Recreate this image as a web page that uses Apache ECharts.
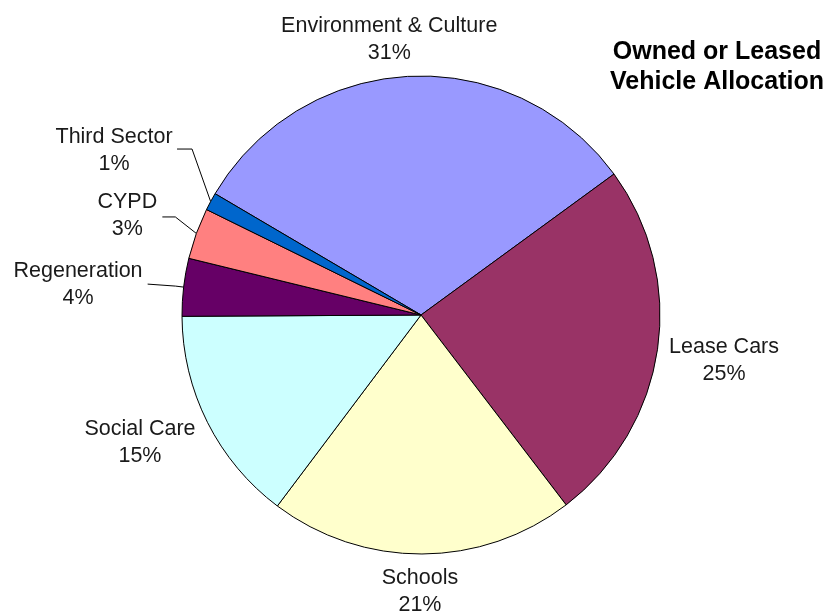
<!DOCTYPE html>
<html>
<head>
<meta charset="utf-8">
<script src="https://cdn.jsdelivr.net/npm/echarts@6/dist/echarts.min.js"></script>
<style>
html,body{margin:0;padding:0;background:#fff;}
#chart{width:826px;height:612px;}
</style>
</head>
<body>
<div id="chart"></div>
<script>
// ---- data ----
const categories = ['Environment & Culture', 'Lease Cars', 'Schools', 'Social Care', 'Regeneration', 'CYPD', 'Third Sector'];
const values = [31.49, 24.65, 20.65, 14.65, 3.9, 3.46, 1.2];
const titleLines = ['Owned or Leased', 'Vehicle Allocation'];

// ---- style / layout ----
const colors = ['#9999FF', '#993366', '#FFFFCC', '#CCFFFF', '#660066', '#FF8080', '#0066CC'];
const CX = 421, CY = 315, R = 239, START = 149.5;
const FONT = '"Liberation Sans", Arial, sans-serif';
// label placement relative to the slice's mid-point on the rim
const labelPlacement = [
  { dx: -20, dy: -36.5 },
  { dx: 66.5, dy: 11 },
  { dx: -2, dy: 38 },
  { dx: -67.5, dy: 20.5 },
  { dx: -105.6, dy: -3, elbow: [-8, -1], end: [-36, -3] },
  { dx: -69, dy: -18, elbow: [-21, -16.5], end: [-34, -16.5] },
  { dx: -96.6, dy: -51, elbow: [-18.6, -52.5], end: [-33.6, -52.5] }
];

const total = values.reduce((a, b) => a + b, 0);
const midAngles = [];
let acc = START;
values.forEach(v => {
  const span = v / total * 360;
  midAngles.push(acc - span / 2);
  acc -= span;
});

const chart = echarts.init(document.getElementById('chart'), null, { renderer: 'canvas' });
chart.setOption({
  animation: false,
  backgroundColor: '#fff',
  graphic: [{
    type: 'text',
    x: 717, y: 37,
    style: {
      text: titleLines.join('\n'),
      align: 'center', verticalAlign: 'top',
      fontFamily: FONT, fontSize: 25, fontWeight: 'bold',
      lineHeight: 30, fill: '#000'
    }
  }],
  series: [{
    type: 'pie',
    center: [CX, CY],
    radius: R,
    startAngle: START,
    clockwise: true,
    avoidLabelOverlap: false,
    percentPrecision: 0,
    itemStyle: { borderColor: '#000', borderWidth: 1 },
    label: {
      show: true, position: 'outside',
      formatter: '{b}\n{d}%',
      fontFamily: FONT, fontSize: 21.5, lineHeight: 27, color: '#1a1a1a'
    },
    labelLine: { show: false, lineStyle: { color: '#000', width: 1 } },
    emphasis: { disabled: true },
    labelLayout: function (params) {
      const i = params.dataIndex;
      const a = midAngles[i] * Math.PI / 180;
      const ax = CX + R * Math.cos(a), ay = CY - R * Math.sin(a);
      const p = labelPlacement[i];
      const res = { x: ax + p.dx, y: ay + p.dy, align: 'center', verticalAlign: 'middle' };
      if (p.elbow) {
        res.labelLinePoints = [[ax, ay], [ax + p.elbow[0], ay + p.elbow[1]], [ax + p.end[0], ay + p.end[1]]];
      }
      return res;
    },
    data: categories.map((c, i) => ({
      name: c,
      value: values[i],
      itemStyle: { color: colors[i] },
      labelLine: { show: !!labelPlacement[i].elbow }
    }))
  }]
});
</script>
</body>
</html>
